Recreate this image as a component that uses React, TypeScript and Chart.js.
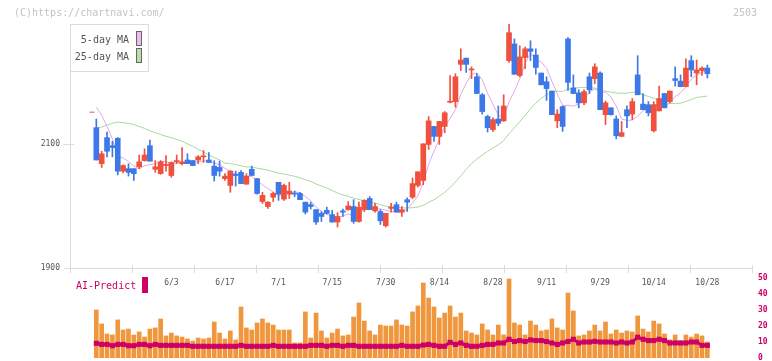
import React, { useEffect, useRef } from "react";
import { Chart, registerables } from "chart.js";

Chart.register(...registerables);

const FONT = "'DejaVu Sans Mono', 'Liberation Mono', monospace";

// ---- data ----
const opens = [
  2126, 2068, 2110, 2097, 2109, 2056, 2060, 2060, 2063, 2073,
  2097, 2059, 2052, 2065, 2049, 2071, 2068, 2074, 2073, 2074,
  2079, 2074, 2064, 2062, 2044, 2033, 2051, 2054, 2035, 2059,
  2044, 2007, 1999, 2014, 2038, 2011, 2019, 2020, 2020, 2006,
  2002, 1994, 1988, 1993, 1986, 1974, 1992, 1994, 1999, 1975,
  1994, 2012, 1992, 1991, 1968, 1996, 2002, 1990, 2010, 2014,
  2033, 2041, 2099, 2128, 2112, 2128, 2167, 2168, 2228, 2238,
  2219, 2208, 2179, 2144, 2123, 2140, 2137, 2234, 2261, 2210,
  2239, 2253, 2243, 2214, 2200, 2185, 2137, 2160, 2269, 2190,
  2182, 2166, 2208, 2205, 2214, 2147, 2158, 2140, 2112, 2155,
  2148, 2211, 2164, 2163, 2121, 2153, 2181, 2168, 2205, 2201,
  2192, 2234, 2214, 2218, 2222,
];
const highs = [
  2140, 2088, 2119, 2104, 2110, 2066, 2068, 2060, 2082, 2092,
  2106, 2073, 2073, 2081, 2071, 2082, 2094, 2084, 2073, 2081,
  2089, 2086, 2073, 2072, 2052, 2057, 2056, 2057, 2052, 2064,
  2044, 2022, 2007, 2022, 2038, 2035, 2038, 2024, 2022, 2006,
  2006, 1994, 1991, 1998, 1993, 1989, 1995, 2007, 2010, 2006,
  2010, 2015, 2004, 1994, 1988, 2004, 2006, 1999, 2013, 2045,
  2055, 2100, 2144, 2128, 2136, 2152, 2210, 2213, 2253, 2238,
  2224, 2213, 2181, 2146, 2142, 2161, 2179, 2293, 2269, 2258,
  2256, 2266, 2253, 2214, 2208, 2185, 2155, 2161, 2271, 2211,
  2187, 2187, 2214, 2229, 2216, 2169, 2158, 2145, 2136, 2161,
  2173, 2242, 2181, 2168, 2168, 2193, 2181, 2185, 2224, 2211,
  2237, 2242, 2235, 2224, 2227,
];
const lows = [
  2074, 2062, 2079, 2079, 2050, 2053, 2048, 2041, 2060, 2072,
  2072, 2054, 2051, 2056, 2046, 2068, 2066, 2068, 2065, 2068,
  2070, 2070, 2040, 2048, 2041, 2022, 2032, 2036, 2035, 2049,
  2019, 2004, 1996, 2007, 2009, 2009, 2012, 2015, 2010, 1987,
  1995, 1970, 1975, 1987, 1974, 1966, 1983, 1993, 1972, 1974,
  1991, 1994, 1990, 1970, 1966, 1990, 1990, 1983, 1991, 2012,
  2030, 2034, 2091, 2104, 2099, 2118, 2166, 2159, 2218, 2215,
  2205, 2181, 2148, 2119, 2120, 2129, 2136, 2231, 2212, 2208,
  2221, 2234, 2212, 2195, 2170, 2147, 2126, 2120, 2186, 2181,
  2158, 2163, 2181, 2197, 2155, 2131, 2146, 2108, 2112, 2126,
  2139, 2179, 2155, 2145, 2119, 2153, 2158, 2166, 2193, 2192,
  2192, 2208, 2195, 2210, 2206,
];
const closes = [
  2074, 2084, 2088, 2094, 2056, 2065, 2054, 2052, 2071, 2082,
  2072, 2063, 2071, 2067, 2070, 2073, 2071, 2068, 2065, 2079,
  2080, 2070, 2049, 2056, 2048, 2056, 2049, 2036, 2048, 2049,
  2020, 2017, 2006, 2020, 2019, 2033, 2024, 2019, 2010, 1990,
  1999, 1974, 1983, 1988, 1974, 1983, 1990, 2000, 1975, 1998,
  2009, 1994, 1999, 1976, 1988, 1998, 1990, 1994, 2006, 2036,
  2055, 2100, 2137, 2112, 2136, 2150, 2168, 2208, 2235, 2228,
  2220, 2181, 2152, 2126, 2139, 2133, 2161, 2279, 2212, 2240,
  2253, 2249, 2223, 2195, 2189, 2147, 2148, 2128, 2199, 2181,
  2166, 2184, 2187, 2224, 2155, 2166, 2147, 2113, 2118, 2145,
  2168, 2179, 2155, 2150, 2163, 2173, 2158, 2185, 2202, 2192,
  2222, 2219, 2219, 2222, 2213,
];
const volumes = [
  30.0, 21.3, 15.0, 14.4, 23.8, 17.5, 18.1, 14.4, 16.3, 13.1,
  18.1, 18.8, 24.4, 13.8, 15.6, 13.8, 13.1, 11.9, 10.6, 12.5,
  11.9, 12.5, 22.5, 15.6, 11.9, 16.9, 11.3, 31.9, 18.8, 17.5,
  21.9, 24.4, 21.9, 20.6, 17.5, 17.5, 17.5, 9.4, 9.4, 28.8,
  12.5, 28.1, 16.9, 12.5, 15.6, 18.1, 13.8, 14.4, 25.6, 34.4,
  23.1, 16.9, 14.4, 20.6, 20.0, 20.0, 23.8, 20.6, 20.0, 28.8,
  32.5, 46.9, 37.5, 31.9, 25.0, 28.1, 32.5, 25.6, 28.1, 16.9,
  15.6, 14.4, 21.3, 17.5, 14.4, 20.6, 14.4, 49.4, 21.9, 20.6,
  14.4, 23.1, 20.6, 16.9, 17.5, 24.4, 18.8, 17.5, 40.6, 29.4,
  13.8, 14.4, 16.9, 20.6, 16.9, 22.5, 15.0, 17.5, 15.6, 16.9,
  16.3, 26.3, 18.1, 16.3, 23.1, 21.3, 15.0, 11.3, 14.4, 10.6,
  14.4, 13.1, 15.0, 13.8, 10.0,
];
const aiPredict = [
  9.2, 8.5, 8.5, 7.7, 8.5, 8.5, 7.7, 7.7, 8.5, 8.5,
  7.7, 8.5, 7.9, 7.9, 7.9, 7.9, 7.9, 7.9, 7.3, 7.3,
  7.3, 7.3, 7.3, 7.3, 7.3, 7.3, 7.3, 7.9, 7.3, 7.3,
  7.3, 7.3, 7.3, 7.9, 7.3, 7.3, 7.3, 7.3, 7.3, 7.3,
  7.9, 7.9, 7.9, 7.3, 7.9, 7.9, 7.3, 7.9, 7.9, 7.3,
  7.3, 7.3, 7.3, 7.3, 7.3, 7.3, 7.3, 7.9, 7.3, 7.3,
  7.3, 8.1, 8.5, 7.9, 7.3, 7.3, 9.8, 8.5, 9.4, 7.9,
  7.3, 7.3, 7.9, 8.5, 8.5, 9.4, 9.4, 11.7, 10.3, 10.9,
  10.3, 11.3, 10.9, 10.9, 10.3, 9.4, 8.5, 9.4, 10.3, 11.7,
  9.4, 10.0, 10.0, 10.4, 10.0, 10.0, 10.0, 9.4, 10.0, 9.4,
  10.0, 13.0, 11.7, 10.9, 10.9, 11.7, 10.9, 9.4, 9.4, 9.4,
  9.4, 10.0, 10.0, 7.9, 7.9,
];
// moving-average values before enough closes exist
const ma5Head = [2159, 2146, 2128, 2108];
const ma25Head = [
  2125, 2127, 2130, 2133, 2135, 2134, 2133, 2131, 2128, 2125,
  2121, 2118, 2115, 2112, 2110, 2107, 2104, 2100, 2096, 2091,
  2087, 2082, 2078, 2074,
];
const prevMark = [{ x: -0.8, y: 2151 }];
const dateTickIndex = [14, 24, 34, 44, 54, 64, 74, 84, 94, 104, 114];
const dateTickLabels = ["6/3", "6/17", "7/1", "7/15", "7/30", "8/14", "8/28", "9/11", "9/29", "10/14", "10/28"];
const priceTicks = [1900, 2100];
const volumeTicks = [0, 10, 20, 30, 40, 50];

// ---- styling ----
const X_MIN = -4.91;
const X_MAX = 122.33;
const UP = "#f0503c";
const DOWN = "#3c78e8";
const AXIS = "#dcdcdc";
const MAGENTA = "#cc0066";

function movingAverage(values: number[], n: number, head: number[]) {
  return values.map((_, i) => {
    if (i < n - 1) return head[i];
    let s = 0;
    for (let j = i - n + 1; j <= i; j++) s += values[j];
    return s / n;
  });
}

const mainDecor = {
  id: "mainDecor",
  afterDraw(chart: any) {
    const { ctx, chartArea: a, scales } = chart;
    ctx.save();
    ctx.strokeStyle = AXIS;
    ctx.lineWidth = 1;
    priceTicks.forEach((v) => {
      const py = Math.round(scales.y.getPixelForValue(v)) + 0.5;
      ctx.beginPath();
      ctx.moveTo(a.left - 6, py);
      ctx.lineTo(a.left + 4, py);
      ctx.stroke();
    });
    for (let k = 0; k <= 11; k++) {
      const px = Math.round(a.left + ((a.right - a.left) * k) / 11) + 0.5;
      ctx.beginPath();
      ctx.moveTo(px, a.bottom - 3);
      ctx.lineTo(px, a.bottom + 5);
      ctx.stroke();
    }
    // legend box
    ctx.fillStyle = "#ffffff";
    ctx.fillRect(a.left, a.top, 78, 47);
    ctx.strokeRect(a.left + 0.5, a.top + 0.5, 78, 47);
    ctx.font = `10px ${FONT}`;
    ctx.textBaseline = "middle";
    ctx.textAlign = "right";
    ctx.fillStyle = "#555555";
    ctx.fillText("5-day MA", 129, 40);
    ctx.fillText("25-day MA", 129, 57);
    ctx.strokeStyle = "#666666";
    ctx.fillStyle = "#eebbee";
    ctx.fillRect(136.5, 31.5, 5, 14);
    ctx.strokeRect(136.5, 31.5, 5, 14);
    ctx.fillStyle = "#bbddaa";
    ctx.fillRect(136.5, 48.5, 5, 14);
    ctx.strokeRect(136.5, 48.5, 5, 14);
    // header texts
    ctx.fillStyle = "#c4c4c4";
    ctx.textAlign = "left";
    ctx.fillText("(C)https://chartnavi.com/", 14, 13);
    ctx.textAlign = "right";
    ctx.fillText("2503", 757, 13);
    ctx.restore();
  },
};

const volDecor = {
  id: "volDecor",
  afterDraw(chart: any) {
    const { ctx } = chart;
    ctx.save();
    ctx.font = `10px ${FONT}`;
    ctx.textBaseline = "middle";
    ctx.textAlign = "left";
    ctx.fillStyle = MAGENTA;
    ctx.fillText("AI-Predict", 76, 16);
    ctx.fillRect(142, 7, 6, 16);
    ctx.restore();
  },
};

export default function App() {
  const mainRef = useRef<HTMLCanvasElement>(null);
  const volRef = useRef<HTMLCanvasElement>(null);

  useEffect(() => {
    const idx = closes.map((_, i) => i);
    const colors = idx.map((i) => (closes[i] >= opens[i] ? UP : DOWN));
    const ma5 = movingAverage(closes, 5, ma5Head);
    const ma25 = movingAverage(closes, 25, ma25Head);

    const main = new Chart(mainRef.current!, {
      type: "bar",
      data: {
        datasets: [
          {
            type: "line",
            label: "25-day MA",
            data: idx.map((i) => ({ x: i, y: ma25[i] })),
            borderColor: "#a8d89c",
            borderWidth: 1,
            pointRadius: 0,
            order: 4,
          } as any,
          {
            type: "line",
            label: "5-day MA",
            data: idx.map((i) => ({ x: i, y: ma5[i] })),
            borderColor: "#e4a6e8",
            borderWidth: 1,
            pointRadius: 0,
            order: 3,
          },
          {
            type: "bar",
            label: "wick",
            data: idx.map((i) => ({ x: i, y: [lows[i], highs[i]] })),
            backgroundColor: colors,
            barThickness: 1,
            grouped: false,
            minBarLength: 1,
            order: 2,
          },
          {
            type: "bar",
            label: "body",
            data: idx.map((i) => ({ x: i, y: [Math.min(opens[i], closes[i]), Math.max(opens[i], closes[i])] })),
            backgroundColor: colors,
            barThickness: 5,
            grouped: false,
            minBarLength: 1,
            order: 1,
          },
          {
            type: "line",
            label: "prev",
            data: prevMark,
            showLine: false,
            pointStyle: "line",
            pointRadius: 2.5,
            pointBorderColor: UP,
            pointBorderWidth: 1,
            order: 0,
          },
        ] as any,
      },
      options: {
        responsive: false,
        animation: false,
        devicePixelRatio: 1,
        events: [],
        layout: { padding: { top: 24, right: 20, left: 0, bottom: 0 } },
        plugins: { legend: { display: false }, tooltip: { enabled: false } },
        scales: {
          x: {
            type: "linear",
            offset: false,
            min: X_MIN,
            max: X_MAX,
            afterFit: (s: any) => {
              s.height = 32;
            },
            afterBuildTicks: (s: any) => {
              s.ticks = dateTickIndex.map((v) => ({ value: v }));
            },
            ticks: {
              callback: (_v: any, i: number) => dateTickLabels[i],
              font: { family: FONT, size: 8 },
              color: "#555555",
              padding: 10,
              maxRotation: 0,
              autoSkip: false,
            },
            grid: { display: false, drawTicks: false, offset: false },
            border: { display: true, color: AXIS },
          },
          y: {
            type: "linear",
            position: "left",
            min: 1900,
            max: 2293,
            afterFit: (s: any) => {
              s.width = 70;
            },
            afterBuildTicks: (s: any) => {
              s.ticks = priceTicks.map((v) => ({ value: v }));
            },
            ticks: {
              callback: (v: any) => String(v),
              font: { family: FONT, size: 8 },
              color: "#555555",
              padding: 10,
            },
            grid: { display: false, drawTicks: false },
            border: { display: true, color: AXIS },
          },
        },
      } as any,
      plugins: [mainDecor],
    });

    const vol = new Chart(volRef.current!, {
      type: "bar",
      data: {
        datasets: [
          {
            type: "line",
            label: "AI-Predict",
            data: idx.map((i) => ({ x: i, y: aiPredict[i] })),
            borderColor: MAGENTA,
            backgroundColor: MAGENTA,
            borderWidth: 3,
            pointRadius: 1.5,
            pointStyle: "rect",
            order: 1,
          } as any,
          {
            type: "bar",
            label: "Volume",
            data: idx.map((i) => ({ x: i, y: volumes[i] })),
            backgroundColor: "#f0963c",
            barThickness: 4,
            grouped: false,
            order: 2,
          },
        ] as any,
      },
      options: {
        responsive: false,
        animation: false,
        devicePixelRatio: 1,
        events: [],
        layout: { padding: { top: 8, right: 0, left: 70, bottom: 7 } },
        plugins: { legend: { display: false }, tooltip: { enabled: false } },
        scales: {
          x: { type: "linear", offset: false, min: X_MIN, max: X_MAX, display: false },
          y: {
            type: "linear",
            position: "right",
            min: 0,
            max: 50,
            afterFit: (s: any) => {
              s.width = 20;
            },
            afterBuildTicks: (s: any) => {
              s.ticks = volumeTicks.map((v) => ({ value: v }));
            },
            ticks: {
              font: { family: FONT, size: 8, weight: "bold" },
              color: MAGENTA,
              padding: 0,
            },
            grid: { display: false, drawTicks: true, tickLength: 6 },
            border: { display: false },
          },
        },
      } as any,
      plugins: [volDecor],
    });

    return () => {
      main.destroy();
      vol.destroy();
    };
  }, []);

  return (
    <div
      style={{
        position: "fixed",
        left: 0,
        top: 0,
        width: 772,
        height: 361,
        overflow: "hidden",
        background: "#ffffff",
      }}
    >
      <canvas ref={mainRef} width={772} height={300} style={{ position: "absolute", left: 0, top: 0 }} />
      <canvas ref={volRef} width={772} height={95} style={{ position: "absolute", left: 0, top: 270 }} />
    </div>
  );
}
